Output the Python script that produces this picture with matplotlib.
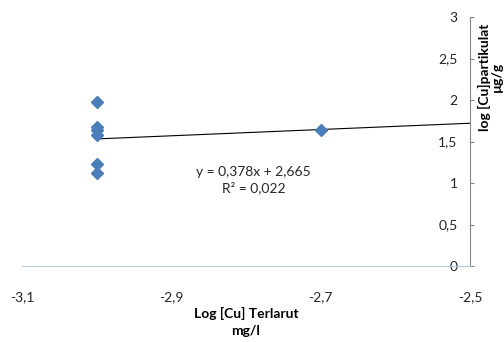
import matplotlib
matplotlib.use("Agg")
import matplotlib.pyplot as plt
import numpy as np
from matplotlib.ticker import FuncFormatter

plt.rcParams["font.family"] = ["Lato", "DejaVu Sans"]

# data
log_cu_terlarut = [-3.0, -3.0, -3.0, -3.0, -3.0, -3.0, -2.7]
log_cu_partikulat = [1.97, 1.67, 1.64, 1.58, 1.23, 1.12, 1.64]
trend_slope = 0.378
trend_intercept = 2.665
r_squared = 0.022
x_ticks = [-3.1, -2.9, -2.7, -2.5]
y_ticks = [0, 0.5, 1, 1.5, 2, 2.5, 3]


def comma_fmt(v, _pos=None):
    return f"{v:g}".replace(".", ",")


fig = plt.figure(figsize=(5.04, 3.42), dpi=100)
ax = fig.add_axes([22 / 504, (342 - 266) / 342, 448 / 504, 249 / 342])

ax.plot(log_cu_terlarut, log_cu_partikulat, linestyle="none", marker="D",
        markersize=6.3, color="#4a7ebb", zorder=3)

xs = np.array([min(log_cu_terlarut), x_ticks[-1]])
ax.plot(xs, trend_slope * xs + trend_intercept, color="black", lw=0.8, zorder=2)

ax.text(-2.79, 1.04,
        f"y = {comma_fmt(trend_slope)}x + {comma_fmt(trend_intercept)}\nR² = {comma_fmt(r_squared)}",
        ha="center", va="center", fontsize=10, color="#262626", linespacing=1.3)

ax.set_xlim(x_ticks[0], x_ticks[-1])
ax.set_ylim(y_ticks[0], y_ticks[-1])
ax.set_xticks(x_ticks)
ax.set_yticks(y_ticks)
ax.xaxis.set_major_formatter(FuncFormatter(comma_fmt))
ax.yaxis.set_major_formatter(FuncFormatter(comma_fmt))

for side in ("top", "right"):
    ax.spines[side].set_visible(False)
ax.spines["left"].set_position(("data", x_ticks[-1]))
ax.spines["left"].set_color("#868686")
ax.spines["left"].set_linewidth(0.8)
ax.spines["bottom"].set_color("#b9c9e0")
ax.spines["bottom"].set_linewidth(0.8)

ax.tick_params(axis="y", direction="in", length=3, pad=9, colors="#868686",
               labelcolor="#262626", labelsize=10)
ax.tick_params(axis="x", length=0, pad=18, labelcolor="#262626", labelsize=10)

ax.set_xlabel("Log [Cu] Terlarut\nmg/l", fontweight="bold", fontsize=10,
              labelpad=3, linespacing=1.45)
fig.text(490 / 504, 1 - 77 / 342, "log [Cu]partikulat\nµg/g", rotation=90,
         ha="center", va="center", fontweight="bold", fontsize=10,
         linespacing=1.0)

ax.patch.set_alpha(0)
fig.savefig("out.png", dpi=100)
